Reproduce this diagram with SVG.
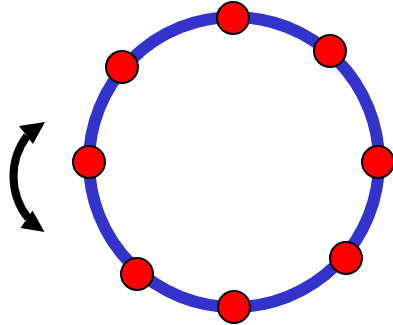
<svg xmlns="http://www.w3.org/2000/svg" width="393" height="325" viewBox="0 0 393 325">
<style>
.ring{fill:none;stroke:#3333CC;stroke-width:12}
.dot{fill:#FF0000;stroke:#000;stroke-width:2}
.arr{fill:none;stroke:#000;stroke-width:8}
.head{fill:#000}
</style>
<g id="ring"><circle class="ring" cx="234" cy="162" r="145"/></g>
<g id="connectors">
<path class="arr" d="M27,136 A67,67 0 0 0 28,218"/>
<polygon class="head" points="45,122 19,126 33,144"/>
<polygon class="head" points="44.5,232 20.5,228 32.5,210.5"/>
</g>
<g id="n1"><circle class="dot" cx="233" cy="18" r="16"/></g>
<g id="n2"><circle class="dot" cx="330" cy="51" r="16"/></g>
<g id="n3"><circle class="dot" cx="378" cy="162" r="16"/></g>
<g id="n4"><circle class="dot" cx="346" cy="258" r="16"/></g>
<g id="n5"><circle class="dot" cx="234" cy="307" r="16"/></g>
<g id="n6"><circle class="dot" cx="137" cy="274" r="16"/></g>
<g id="n7"><circle class="dot" cx="89" cy="162" r="16"/></g>
<g id="n8"><circle class="dot" cx="122" cy="67" r="16"/></g>
</svg>
